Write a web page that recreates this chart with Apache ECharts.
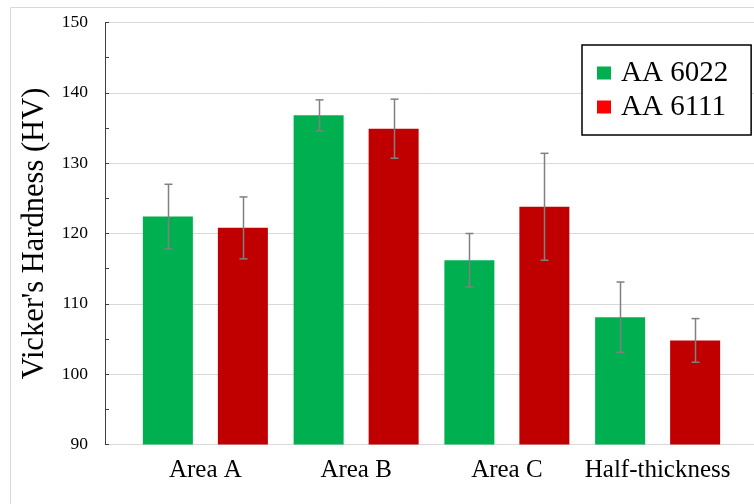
<!DOCTYPE html>
<html>
<head>
<meta charset="utf-8">
<script src="https://cdn.jsdelivr.net/npm/echarts@6/dist/echarts.min.js"></script>
<style>
html,body{margin:0;padding:0;background:#fff;}
#chart{width:754px;height:504px;}
</style>
</head>
<body>
<div id="chart"></div>
<script>
// ---- data ----
const categories = ['Area A', 'Area B', 'Area C', 'Half-thickness'];
const seriesNames = ['AA 6022', 'AA 6111'];
const aa6022 = [122.4, 136.8, 116.2, 108.1];
const aa6022Err = [4.6, 2.2, 3.8, 5.0];
const aa6111 = [120.8, 134.9, 123.8, 104.8];
const aa6111Err = [4.4, 4.2, 7.6, 3.1];
const yTicks = [90, 100, 110, 120, 130, 140, 150];

// ---- style ----
const FONT = '"Liberation Serif", "Times New Roman", serif';
const BAR_W = 50;
const BAR_GAP_PX = 25;
const GREEN = '#00B050';
const RED = '#C00000';

const errData = [];
[[aa6022, aa6022Err, -1], [aa6111, aa6111Err, 1]].forEach(function (s) {
  s[0].forEach(function (v, i) { errData.push([i, v, s[1][i], s[2]]); });
});

const chart = echarts.init(document.getElementById('chart'), null, {renderer: 'canvas'});
const gridTop = 22.5, gridBottom = 59.5;
chart.setOption({
  animation: false,
  backgroundColor: '#fff',
  graphic: [{
    type: 'rect', z: -10, silent: true,
    shape: {x: 10.5, y: 7.5, width: 800, height: 600},
    style: {fill: 'none', stroke: '#d9d9d9', lineWidth: 1}
  }],
  grid: [
    {left: 130, right: 21, top: gridTop, bottom: gridBottom},
    {left: 105, right: 0, top: gridTop, bottom: gridBottom}
  ],
  legend: {
    orient: 'vertical',
    left: 582, top: 45,
    padding: [13, 23, 13, 15],
    itemGap: 4,
    itemWidth: 14, itemHeight: 13,
    icon: 'rect',
    backgroundColor: '#fff',
    borderColor: '#000', borderWidth: 1.5,
    borderRadius: 0,
    textStyle: {fontFamily: FONT, fontSize: 29, color: '#000', lineHeight: 30, padding: [0, 0, 0, 5]},
    data: [
      {name: seriesNames[0], itemStyle: {color: GREEN}},
      {name: seriesNames[1], itemStyle: {color: '#FF0000'}}
    ]
  },
  xAxis: [
    {
      gridIndex: 0, type: 'category', data: categories,
      axisLine: {show: false}, axisTick: {show: false},
      axisLabel: {interval: 0, hideOverlap: false, fontFamily: FONT, fontSize: 25, color: '#000', margin: 13}
    },
    {gridIndex: 1, type: 'value', show: false, min: 0, max: 1}
  ],
  yAxis: [
    {gridIndex: 0, type: 'value', min: yTicks[0], max: yTicks[yTicks.length - 1], interval: 10, show: false},
    {
      gridIndex: 1, type: 'value', min: yTicks[0], max: yTicks[yTicks.length - 1], interval: 10,
      name: "Vicker's Hardness (HV)", nameLocation: 'middle', nameGap: 53,
      nameTextStyle: {fontFamily: FONT, fontSize: 30.5, color: '#000'},
      axisLine: {show: true, lineStyle: {color: '#404040', width: 1}},
      axisTick: {show: true, inside: true, length: 4, lineStyle: {color: '#404040'}},
      minorTick: {show: true, splitNumber: 2, length: 4, lineStyle: {color: '#404040'}},
      splitLine: {show: true, lineStyle: {color: '#d9d9d9', width: 1}},
      axisLabel: {fontFamily: FONT, fontSize: 17.5, color: '#000', margin: 17}
    }
  ],
  series: [
    {
      name: seriesNames[0], type: 'bar', xAxisIndex: 0, yAxisIndex: 0,
      data: aa6022, barWidth: BAR_W, barGap: (BAR_GAP_PX / BAR_W * 100) + '%',
      itemStyle: {color: GREEN}, z: 2
    },
    {
      name: seriesNames[1], type: 'bar', xAxisIndex: 0, yAxisIndex: 0,
      data: aa6111, barWidth: BAR_W, barGap: (BAR_GAP_PX / BAR_W * 100) + '%',
      itemStyle: {color: RED}, z: 2
    },
    {
      type: 'custom', xAxisIndex: 0, yAxisIndex: 0, z: 5, silent: true,
      data: errData,
      encode: {x: 0, y: 1},
      renderItem: function (params, api) {
        const i = api.value(0), v = api.value(1), e = api.value(2), side = api.value(3);
        const dx = side * (BAR_W + BAR_GAP_PX) / 2;
        const hi = api.coord([i, v + e]);
        const lo = api.coord([i, v - e]);
        const x = Math.round(hi[0] + dx) + 0.5;
        const cap = 4;
        const st = {stroke: '#808080', lineWidth: 1.5};
        return {
          type: 'group',
          children: [
            {type: 'line', shape: {x1: x, y1: hi[1], x2: x, y2: lo[1]}, style: st},
            {type: 'line', shape: {x1: x - cap, y1: hi[1], x2: x + cap, y2: hi[1]}, style: st},
            {type: 'line', shape: {x1: x - cap, y1: lo[1], x2: x + cap, y2: lo[1]}, style: st}
          ]
        };
      }
    }
  ]
});
</script>
</body>
</html>
